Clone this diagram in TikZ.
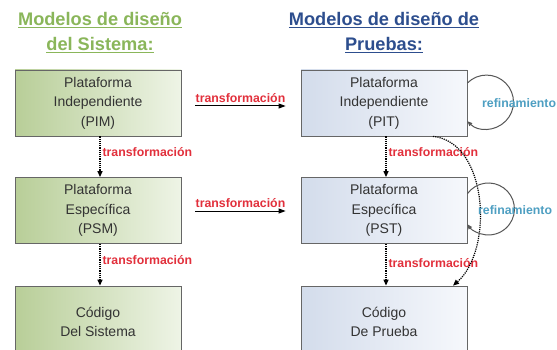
\documentclass[tikz,border=0pt]{standalone}
\usepackage{fontspec}
\setmainfont{Liberation Sans}
\usetikzlibrary{arrows.meta}
\definecolor{ttlgreen}{HTML}{8AB65A}
\definecolor{ttlblue}{HTML}{2D4E8E}
\definecolor{lblred}{HTML}{E2303C}
\definecolor{lblteal}{HTML}{4E9FC2}
\definecolor{gL}{HTML}{B8CE98}
\definecolor{gR}{HTML}{EEF4E6}
\definecolor{bL}{HTML}{D3DCEB}
\definecolor{bR}{HTML}{F6F8FC}
\definecolor{edge}{HTML}{666666}
\definecolor{txt}{HTML}{333333}
\tikzset{
  boxbase/.style={draw=edge, line width=0.8pt, minimum width=166pt, minimum height=66pt,
    inner sep=0pt, align=center, text=txt, font=\fontsize{14}{19.5}\selectfont},
  gbox/.style={boxbase, left color=gL, right color=gR},
  bbox/.style={boxbase, left color=bL, right color=bR},
  ttl/.style={align=center, font=\fontsize{18.2}{25}\selectfont\bfseries},
  tlabel/.style={text=lblred, font=\fontsize{12.3}{14}\selectfont\bfseries, inner sep=2pt},
  rlabel/.style={text=lblteal, font=\fontsize{12.3}{14}\selectfont\bfseries, inner sep=0pt},
  harrow/.style={line width=1pt, -{Triangle[length=7pt,width=5pt]}},
  varrow/.style={line width=1.2pt, densely dotted, -{Triangle[length=6pt,width=5pt]}},
  looparrow/.style={line width=1pt, draw=edge!85!black, -{Triangle[length=5pt,width=4pt]}}
}
\begin{document}
\begin{tikzpicture}[x=1pt,y=1pt]
\useasboundingbox (0,0) rectangle (557,-350);
\fill[white] (0,0) rectangle (557,-350);

% titles
\node[ttl, text=ttlgreen] (t1) at (100,-32.5) {\underline{Modelos de diseño}\\\underline{del Sistema:}};
\node[ttl, text=ttlblue] (t2) at (384,-32.5) {\underline{Modelos de diseño de}\\\underline{Pruebas:}};

% boxes
\node[gbox] (pim) at (98,-103) {Plataforma\\Independiente\\(PIM)};
\node[gbox] (psm) at (98,-210.5) {Plataforma\\Específica\\(PSM)};
\node[gbox, minimum height=72pt] (cds) at (98,-322) {Código\\Del Sistema};
\node[bbox] (pit) at (384,-103) {Plataforma\\Independiente\\(PIT)};
\node[bbox] (pst) at (384,-210.5) {Plataforma\\Específica\\(PST)};
\node[bbox, minimum height=72pt] (cdp) at (384,-322) {Código\\De Prueba};

% horizontal transformations
\draw[harrow] ([xshift=14pt,yshift=-3pt]pim.east) -- node[tlabel, above=1pt] (h1) {transformación} ([xshift=-15pt,yshift=-3pt]pit.west);
\draw[harrow] ([xshift=14pt,yshift=-0.5pt]psm.east) -- node[tlabel, above=1pt] (h2) {transformación} ([xshift=-15pt,yshift=-0.5pt]pst.west);

% vertical transformations
\draw[varrow] ([xshift=2pt]pim.south) -- node[tlabel, right, pos=0.38] (v1) {transformación} ([xshift=2pt]psm.north);
\draw[varrow] ([xshift=2pt]psm.south) -- node[tlabel, right, pos=0.38] (v2) {transformación} ([xshift=2pt]cds.north);
\draw[varrow] ([xshift=2pt]pit.south) -- node[tlabel, right, pos=0.38] (v3) {transformación} ([xshift=2pt]pst.north);
\draw[varrow] ([xshift=2pt]pst.south) -- node[tlabel, right, pos=0.45] (v4) {transformación} ([xshift=2pt]cdp.north);

% curved transformation PIT -> code
\draw[varrow] ([xshift=49pt]pit.south) .. controls (488,-142) and (494,-250) .. ([xshift=69pt]cdp.north);

% refinement loops
\draw[looparrow] ([yshift=20pt]pit.east) arc[start angle=135, end angle=-135, radius=27pt];
\node[rlabel, anchor=west] (r1) at (482,-103) {refinamiento};
\draw[looparrow] ([yshift=16.8pt]pst.east) arc[start angle=144, end angle=-144, radius=26pt];
\node[rlabel, anchor=west] (r2) at (478,-210) {refinamiento};
\end{tikzpicture}
\end{document}
